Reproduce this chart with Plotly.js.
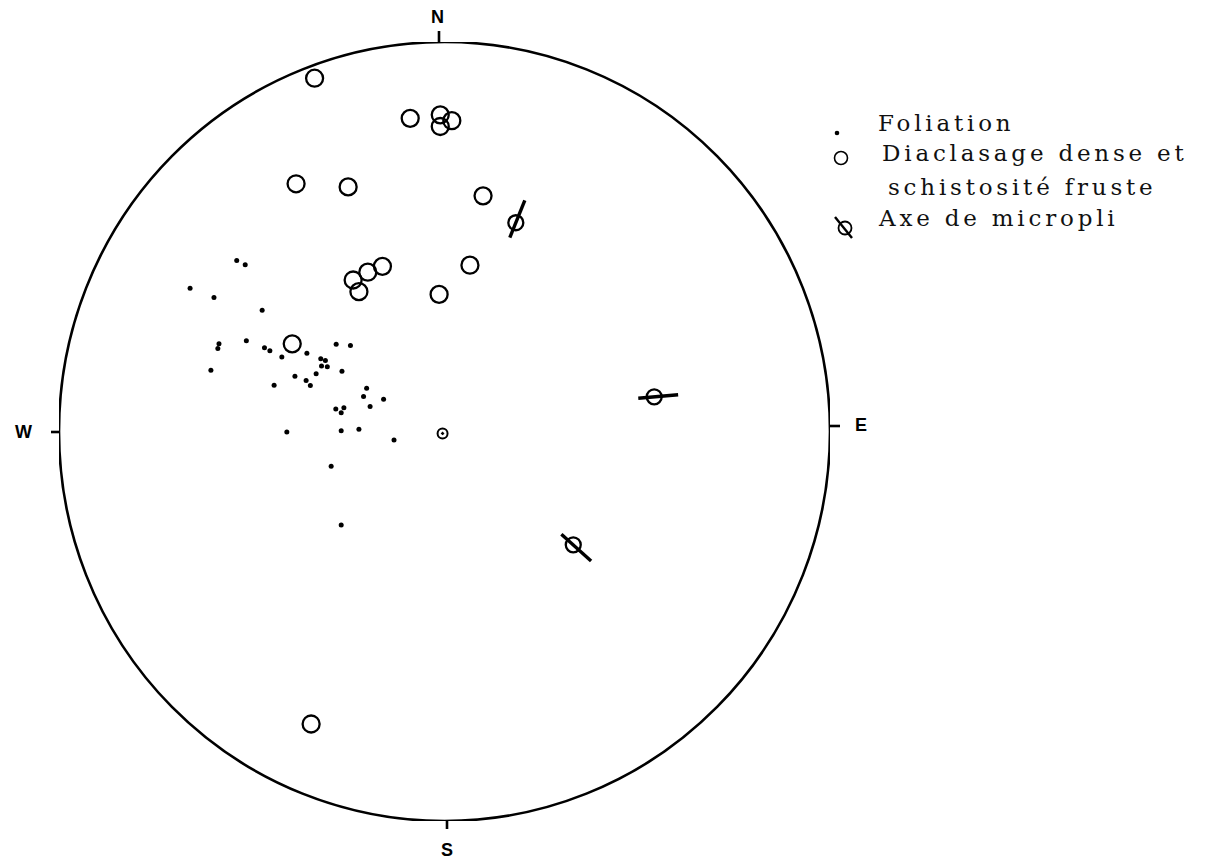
<!DOCTYPE html>
<html><head><meta charset="utf-8">
<script src="https://cdn.plot.ly/plotly-3.0.1.min.js"></script>
<style>
html,body{margin:0;padding:0;background:#fff;}
text.annotation-text[style*="DejaVu Serif"]{letter-spacing:3.8px;}
</style>
</head><body><div id="chart" style="width:1205px;height:860px;"></div>
<script>
// Projected positions on the unit net (x = east, y = north)
const foliationX = [-0.539,-0.517,-0.660,-0.598,-0.473,-0.585,-0.588,-0.514,-0.467,-0.453,-0.422,-0.357,-0.281,-0.244,-0.321,-0.309,-0.319,-0.304,-0.606,-0.266,-0.388,-0.333,-0.359,-0.348,-0.442,-0.202,-0.210,-0.158,-0.193,-0.282,-0.261,-0.268,-0.409,-0.268,-0.222,-0.131,-0.294,-0.268];
const foliationY = [0.439,0.428,0.368,0.344,0.311,0.225,0.213,0.233,0.215,0.207,0.191,0.201,0.224,0.221,0.187,0.182,0.168,0.166,0.157,0.155,0.142,0.148,0.131,0.118,0.119,0.111,0.090,0.083,0.064,0.058,0.061,0.048,-0.001,0.002,0.006,-0.022,-0.089,-0.240];
const diaclasageX = [-0.337,-0.089,-0.011,0.019,-0.011,-0.385,-0.250,0.100,-0.161,-0.199,-0.237,-0.222,0.066,-0.014,-0.395,-0.346];
const diaclasageY = [0.907,0.804,0.813,0.798,0.783,0.636,0.628,0.605,0.424,0.409,0.389,0.359,0.427,0.352,0.225,-0.751];
const micropliX = [0.185,0.544,0.334];
const micropliY = [0.536,0.089,-0.291];
const micropliTrend = [22,85,132];
const centreX = [-0.005];
const centreY = [-0.005];
const cardinalLabels = ['N','E','S','W'];
const legendLabels = ['Foliation','Diaclasage dense et','schistosité fruste','Axe de micropli'];

const W = 1205, H = 860;
const M = {l:59, r:375, t:42, b:39, pad:0};
const pw = W - M.l - M.r, ph = H - M.t - M.b;
const pxX = pw/2, pxY = ph/2;            // pixels per data unit
const paperX = p => (p - M.l)/pw;        // pixel -> paper (layout helpers)
const paperY = p => 1 - (p - M.t)/ph;

// fold-axis strokes
const sx = [], sy = [];
micropliX.forEach((x,i)=>{
  const a = micropliTrend[i]*Math.PI/180;
  const ux = Math.sin(a)/pxX, uy = Math.cos(a)/pxY;
  sx.push(x-16*ux, x+24*ux, null);
  sy.push(micropliY[i]-16*uy, micropliY[i]+24*uy, null);
});

const traces = [
  {x:foliationX, y:foliationY, mode:'markers', type:'scatter', cliponaxis:false,
   marker:{symbol:'circle', size:5, color:'#000'}, hoverinfo:'skip'},
  {x:diaclasageX, y:diaclasageY, mode:'markers', type:'scatter', cliponaxis:false,
   marker:{symbol:'circle-open', size:17, color:'#000', line:{width:2.3, color:'#000'}}, hoverinfo:'skip'},
  {x:sx, y:sy, mode:'lines', type:'scatter', cliponaxis:false,
   line:{color:'#000', width:3.4}, hoverinfo:'skip'},
  {x:micropliX, y:micropliY, mode:'markers', type:'scatter', cliponaxis:false,
   marker:{symbol:'circle-open', size:15, color:'#000', line:{width:2.3, color:'#000'}}, hoverinfo:'skip'},
  {x:centreX, y:centreY, mode:'markers', type:'scatter', cliponaxis:false,
   marker:{symbol:'circle-open-dot', size:10, color:'#000', line:{width:2, color:'#000'}}, hoverinfo:'skip'}
];

const tick = (x0,y0,x1,y1)=>({type:'line', xref:'paper', yref:'paper',
  x0:paperX(x0), x1:paperX(x1), y0:paperY(y0), y1:paperY(y1), line:{color:'#000', width:2.6}});
const shapes = [
  {type:'circle', xref:'x', yref:'y', x0:-1, x1:1, y0:-1, y1:1, line:{color:'#000', width:2.6}},
  tick(439,43,439,31), tick(447,821,447,829), tick(59,432,51,432), tick(830,426,840,426),
  // legend symbols
  {type:'circle', xref:'paper', yref:'paper', xsizemode:'pixel', ysizemode:'pixel',
   xanchor:paperX(837), yanchor:paperY(133), x0:-2.3, x1:2.3, y0:-2.3, y1:2.3, fillcolor:'#000', line:{width:0}},
  {type:'circle', xref:'paper', yref:'paper', xsizemode:'pixel', ysizemode:'pixel',
   xanchor:paperX(841), yanchor:paperY(158), x0:-6.5, x1:6.5, y0:-6.5, y1:6.5, line:{color:'#000', width:1.6}},
  {type:'circle', xref:'paper', yref:'paper', xsizemode:'pixel', ysizemode:'pixel',
   xanchor:paperX(845), yanchor:paperY(228), x0:-6.5, x1:6.5, y0:-6.5, y1:6.5, line:{color:'#000', width:1.8}},
  {type:'line', xref:'paper', yref:'paper', xsizemode:'pixel', ysizemode:'pixel',
   xanchor:paperX(845), yanchor:paperY(228), x0:-10, x1:7, y0:11, y1:-10, line:{color:'#000', width:2.4}}
];

const cardPos = {N:[437,17], E:[861,425], S:[447,850], W:[23,432]};
const annotations = cardinalLabels.map(c=>({
  text:c, xref:'paper', yref:'paper', x:paperX(cardPos[c][0]), y:paperY(cardPos[c][1]),
  showarrow:false, xanchor:'center', yanchor:'middle',
  font:{family:'Liberation Sans', size:18, color:'#000', weight:'bold'}
}));
const legPos = [[876,123],[880,153],[886,187],[876,218]];
legendLabels.forEach((t,i)=>annotations.push({
  text:t, xref:'paper', yref:'paper', x:paperX(legPos[i][0]), y:paperY(legPos[i][1]),
  showarrow:false, xanchor:'left', yanchor:'middle',
  font:{family:'DejaVu Serif', size:23, color:'#111'}
}));

const layout = {
  width:W, height:H, margin:M, showlegend:false,
  paper_bgcolor:'#fff', plot_bgcolor:'#fff',
  xaxis:{range:[-1,1], visible:false, fixedrange:true},
  yaxis:{range:[-1,1], visible:false, fixedrange:true},
  shapes:shapes, annotations:annotations
};
Plotly.newPlot('chart', traces, layout, {displayModeBar:false, staticPlot:true});
</script></body></html>
